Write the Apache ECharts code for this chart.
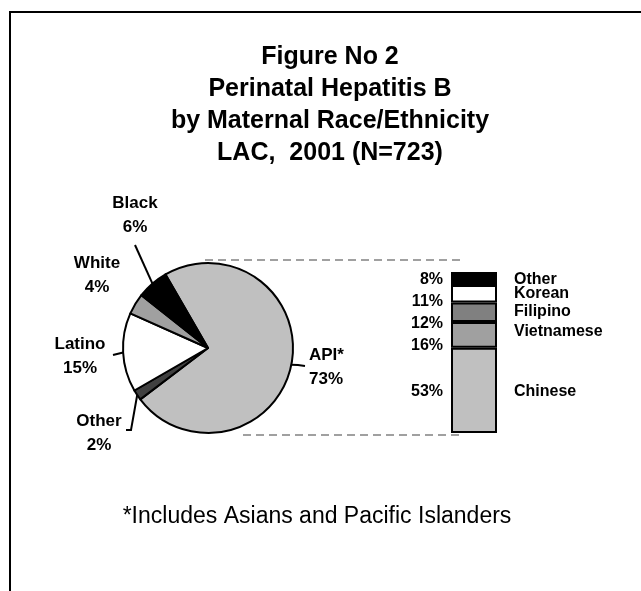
<!DOCTYPE html>
<html>
<head>
<meta charset="utf-8" />
<script src="https://cdn.jsdelivr.net/npm/echarts@6/dist/echarts.min.js"></script>
<style>
  html, body { margin: 0; padding: 0; background: #fff; }
  #main { width: 641px; height: 591px; }
</style>
</head>
<body>
<div id="main"></div>
<script>
  // data
  var titleLines = [
    'Figure No 2',
    'Perinatal Hepatitis B',
    'by Maternal Race/Ethnicity',
    'LAC,  2001 (N=723)'
  ];
  var footnote = '*Includes Asians and Pacific Islanders';

  var raceNames = ['API*', 'Other', 'Latino', 'White', 'Black'];
  var racePct = [73, 2, 15, 4, 6];

  // API breakdown, bottom of the bar first
  var apiNames = ['Chinese', 'Vietnamese', 'Filipino', 'Korean', 'Other'];
  var apiPct = [53, 16, 12, 11, 8];

  // styles
  var font = '"Liberation Sans", Arial, sans-serif';
  var raceColors = ['#c0c0c0', '#404040', '#ffffff', '#a0a0a0', '#000000'];
  var apiColors = ['#c0c0c0', '#a0a0a0', '#808080', '#ffffff', '#000000'];
  var pctShift = [1, 11, 11, 8, 1];
  var nameShift = [1, -3, -1, 0, 1];

  // where the pie labels sit, with the end of their leader lines
  var raceLabelSpots = [
    { x: 309, y: 367, align: 'left', line: [[298, 365], [305, 366]] },
    { x: 99, y: 433, align: 'center', line: [[131, 430], [126, 430]] },
    { x: 80, y: 356, align: 'center', line: [[113, 355]] },
    { x: 97, y: 275, align: 'center', line: null },
    { x: 135, y: 215, align: 'center', line: [[135, 245]] }
  ];

  var chart = echarts.init(document.getElementById('main'));

  var series = [];
  series.push({
    type: 'pie',
    center: [208, 348],
    radius: 85,
    startAngle: 120,
    clockwise: true,
    animation: false,
    silent: true,
    data: raceNames.map(function (n, i) {
      return {
        name: n,
        value: racePct[i],
        itemStyle: { color: raceColors[i] },
        labelLine: { show: raceLabelSpots[i].line !== null }
      };
    }),
    itemStyle: { borderColor: '#000', borderWidth: 2 },
    label: {
      show: true,
      position: 'outside',
      formatter: '{b}\n{c}%',
      color: '#000',
      fontFamily: font,
      fontWeight: 'bold',
      fontSize: 17,
      lineHeight: 24
    },
    labelLine: {
      show: true,
      length: 6,
      length2: 6,
      lineStyle: { color: '#000', width: 2 }
    },
    labelLayout: function (p) {
      var s = raceLabelSpots[p.dataIndex];
      var out = { x: s.x, y: s.y, align: s.align, verticalAlign: 'middle' };
      if (s.line && p.labelLinePoints) {
        out.labelLinePoints = [p.labelLinePoints[0]].concat(s.line);
      }
      return out;
    }
  });

  apiNames.forEach(function (n, i) {
    series.push({
      name: n,
      type: 'bar',
      stack: 'api',
      barWidth: '100%',
      barGap: '-100%',
      silent: true,
      animation: false,
      data: [apiPct[i]],
      itemStyle: { color: apiColors[i], borderColor: '#000', borderWidth: 2 },
      label: {
        show: true,
        position: 'left',
        distance: 8,
        offset: [0, pctShift[i]],
        formatter: '{c}%',
        color: '#000',
        fontFamily: font,
        fontWeight: 'bold',
        fontSize: 16
      }
    });
  });

  // invisible twin stack that carries the group names on the right
  apiNames.forEach(function (n, i) {
    series.push({
      name: n,
      type: 'bar',
      stack: 'names',
      barWidth: '100%',
      barGap: '-100%',
      silent: true,
      animation: false,
      data: [apiPct[i]],
      itemStyle: { color: 'rgba(0,0,0,0)', borderWidth: 0 },
      label: {
        show: true,
        position: 'right',
        distance: 17,
        offset: [0, nameShift[i]],
        formatter: '{a}',
        color: '#000',
        fontFamily: font,
        fontWeight: 'bold',
        fontSize: 16
      }
    });
  });

  chart.setOption({
    backgroundColor: '#fff',
    animation: false,
    title: [
      {
        text: titleLines.join('\n'),
        left: 330,
        top: 41,
        padding: 0,
        textAlign: 'center',
        textStyle: {
          color: '#000',
          fontFamily: font,
          fontWeight: 'bold',
          fontSize: 25,
          lineHeight: 32
        }
      },
      {
        text: footnote,
        left: 317,
        top: 503,
        padding: 0,
        textAlign: 'center',
        textStyle: {
          color: '#000',
          fontFamily: font,
          fontWeight: 'normal',
          fontSize: 23,
          lineHeight: 28
        }
      }
    ],
    grid: { left: 451, top: 272, width: 46, height: 161 },
    xAxis: { type: 'category', data: ['API*'], show: false },
    yAxis: { type: 'value', min: 0, max: 100, show: false },
    graphic: [
      { type: 'line', shape: { x1: 10, y1: 12, x2: 10, y2: 591 }, style: { stroke: '#000', lineWidth: 2 } },
      { type: 'line', shape: { x1: 9, y1: 12, x2: 641, y2: 12 }, style: { stroke: '#000', lineWidth: 2 } },
      { type: 'line', z: -1, shape: { x1: 205, y1: 260, x2: 465, y2: 260 }, style: { stroke: '#a0a0a0', lineWidth: 2, lineDash: [8, 5] } },
      { type: 'line', z: -1, shape: { x1: 243, y1: 435, x2: 462, y2: 435 }, style: { stroke: '#a0a0a0', lineWidth: 2, lineDash: [8, 5] } }
    ],
    series: series
  });
</script>
</body>
</html>
